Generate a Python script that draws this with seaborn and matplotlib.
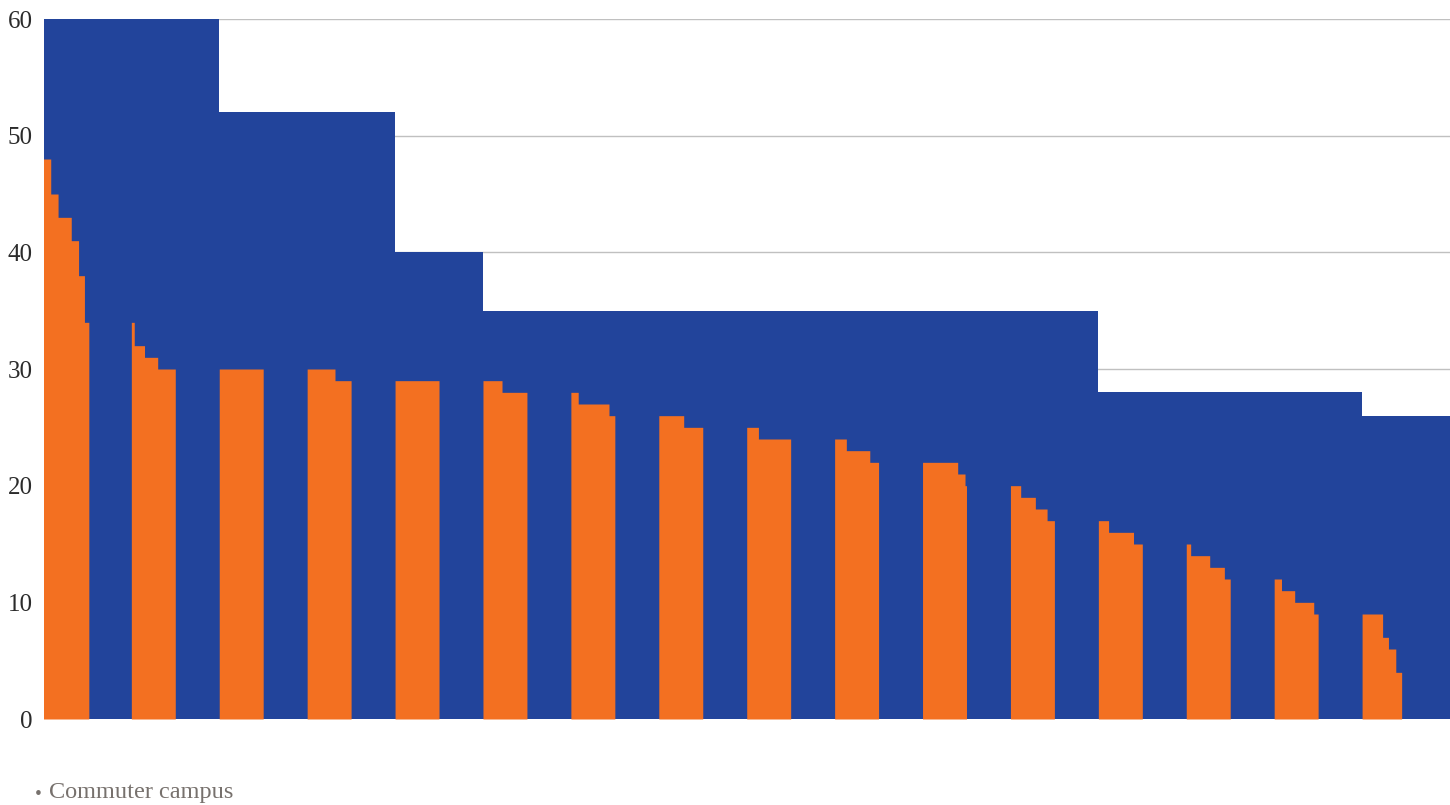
import numpy as np
import pandas as pd
import matplotlib
matplotlib.use("Agg")
import matplotlib.pyplot as plt
import seaborn as sns

# one value per campus group, left to right (blue steps)
blue_values = [60, 60, 52, 52, 40, 35, 35, 35, 35, 35, 35, 35, 28, 28, 28, 26]

# orange steps inside each group: the values and how many slots each one takes
orange_values = [
    [48, 45, 43, 41, 38, 34],
    [34, 32, 31, 30],
    [30],
    [30, 29],
    [29],
    [29, 28],
    [28, 27, 26],
    [26, 25],
    [25, 24],
    [24, 23, 22],
    [22, 21, 20],
    [20, 19, 18, 17],
    [17, 16, 15],
    [15, 14, 13, 12],
    [12, 11, 10, 9],
    [9, 7, 6, 4],
]
orange_counts = [
    [5, 5, 9, 5, 4, 3],
    [2, 7, 9, 12],
    [30],
    [19, 11],
    [30],
    [13, 17],
    [5, 21, 4],
    [17, 13],
    [8, 22],
    [8, 16, 6],
    [24, 5, 1],
    [7, 10, 8, 5],
    [7, 17, 6],
    [3, 13, 10, 4],
    [5, 9, 13, 3],
    [14, 4, 5, 4],
]
y_ticks = [0, 10, 20, 30, 40, 50, 60]
legend_label = "Commuter campus"

BLUE = "#22449b"
ORANGE = "#f37021"
slots = 60  # slots per group

#%%
n = len(blue_values)
blue_df = pd.DataFrame({"pos": np.arange(n) * slots + slots / 2, "value": blue_values})

rows = []
for g, (vals, cnts) in enumerate(zip(orange_values, orange_counts)):
    v = np.repeat(vals, cnts)
    for k, val in enumerate(v):
        rows.append({"pos": g * slots + k + 0.5, "value": float(val)})
orange_df = pd.DataFrame(rows)

#%%
sns.set_style("white")
plt.rcParams["font.family"] = ["Liberation Serif", "DejaVu Serif"]

fig = plt.figure(figsize=(14.5, 8.05), dpi=100)
ax = fig.add_axes([44 / 1450, 1 - 719 / 805, 1 - 44 / 1450, 700 / 805])

blue_bins = [float(b) for b in np.arange(n + 1) * slots]
orange_bins = [float(b) for b in np.arange(n * slots + 1)]

sns.histplot(data=blue_df, x="pos", weights="value", bins=blue_bins,
             element="step", fill=True, color=BLUE, alpha=1, linewidth=0,
             antialiased=False, ax=ax, zorder=2)
sns.histplot(data=orange_df, x="pos", weights="value", bins=orange_bins,
             element="step", fill=True, color=ORANGE, alpha=1, linewidth=0,
             antialiased=False, ax=ax, zorder=3)

ax.set_xlim(0.4, n * slots)
ax.set_ylim(0, 60)
ax.set_yticks(y_ticks)
ax.set_xticks([])
ax.set_xlabel("")
ax.set_ylabel("")
for s in ax.spines.values():
    s.set_visible(False)
ax.yaxis.grid(True, color="#c0c0c0", linewidth=1)
ax.set_axisbelow(True)
ax.tick_params(axis="y", length=3, width=1, color="#c0c0c0", pad=5,
               labelsize=18, labelcolor="#2b2b2b")

fig.text(35 / 1450, 1 - 794 / 805, "\u2022", fontsize=14,
         color="#77716d", va="center", ha="left")
fig.text(49 / 1450, 1 - 792 / 805, legend_label, fontsize=17.5,
         color="#77716d", va="center", ha="left")

plt.savefig("out.png", dpi=100)
